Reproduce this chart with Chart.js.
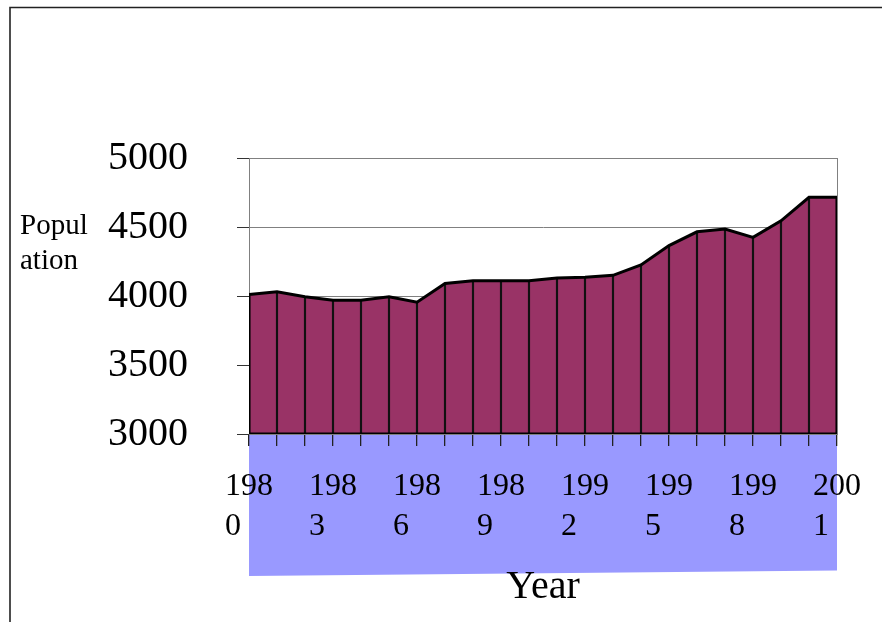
<!DOCTYPE html>
<html>
<head>
<meta charset="utf-8">
<script src="https://cdn.jsdelivr.net/npm/chart.js@4"></script>
<style>
  html, body { margin: 0; padding: 0; background: #ffffff; }
  #wrap { width: 882px; height: 622px; }
</style>
</head>
<body>
<div id="wrap"><canvas id="c" width="882" height="622"></canvas></div>
<script>
// ---- data ----
const years = [1980, 1981, 1982, 1983, 1984, 1985, 1986, 1987, 1988, 1989, 1990,
               1991, 1992, 1993, 1994, 1995, 1996, 1997, 1998, 1999, 2000, 2001];
const population = [4010, 4030, 3995, 3970, 3970, 3995, 3955, 4090, 4110, 4110, 4110,
                    4130, 4135, 4150, 4225, 4365, 4465, 4485, 4425, 4545, 4715, 4715];
const xTickLabels = ["1980", "1983", "1986", "1989", "1992", "1995", "1998", "2001"];
const yTickValues = [3000, 3500, 4000, 4500, 5000];
const yAxisLabelLines = ["Popul", "ation"];
const xAxisTitle = "Year";

// ---- derived tables for the library ----
const points = years.map((y, i) => ({ x: y, y: population[i] }));
const yMin = yTickValues[0], yMax = yTickValues[yTickValues.length - 1];
const outline = [{ x: years[0], y: yMin }, ...points,
                 { x: years[years.length - 1], y: yMin }, { x: years[0], y: yMin }];

const SERIF = '"Liberation Serif", "Times New Roman", serif';

const decor = {
  id: 'decor',
  beforeDraw(chart) {
    const ctx = chart.ctx, a = chart.chartArea;
    ctx.save();
    // blue band under the plot
    ctx.fillStyle = '#9999FF';
    ctx.beginPath();
    ctx.moveTo(a.left, a.bottom);
    ctx.lineTo(a.right, a.bottom);
    ctx.lineTo(a.right, 570.5);
    ctx.lineTo(a.left, 576);
    ctx.closePath();
    ctx.fill();
    // outer frame (top and left)
    ctx.strokeStyle = '#222';
    ctx.lineWidth = 1.6;
    ctx.beginPath();
    ctx.moveTo(882, 7.5);
    ctx.lineTo(10, 7.5);
    ctx.lineTo(10, 622);
    ctx.stroke();
    ctx.restore();
  },
  beforeDatasetsDraw(chart) {
    const ctx = chart.ctx, a = chart.chartArea;
    ctx.save();
    ctx.strokeStyle = '#808080';
    ctx.lineWidth = 1;
    ctx.strokeRect(a.left + 0.5, a.top + 0.5, a.right - a.left, a.bottom - a.top);
    ctx.restore();
  },
  afterDraw(chart) {
    const ctx = chart.ctx;
    ctx.save();
    ctx.fillStyle = '#000';
    ctx.font = '29px ' + SERIF;
    ctx.textAlign = 'left';
    ctx.textBaseline = 'alphabetic';
    ctx.fillText(yAxisLabelLines[0], 20, 234);
    ctx.fillText(yAxisLabelLines[1], 20, 269);
    ctx.restore();
  }
};

new Chart(document.getElementById('c'), {
  type: 'line',
  data: {
    datasets: [
      {
        type: 'line',
        data: points,
        fill: 'start',
        backgroundColor: '#993366',
        borderWidth: 0,
        pointRadius: 0,
        tension: 0,
        order: 3
      },
      {
        type: 'bar',
        data: points,
        backgroundColor: '#111111',
        borderWidth: 0,
        barThickness: 1.5,
        order: 2
      },
      {
        type: 'line',
        data: outline,
        fill: false,
        borderColor: '#000000',
        borderWidth: 3,
        borderJoinStyle: 'miter',
        pointRadius: 0,
        tension: 0,
        order: 1
      }
    ]
  },
  options: {
    responsive: false,
    animation: false,
    events: [],
    layout: { padding: { top: 158, right: 45, bottom: 0, left: 0 } },
    plugins: { legend: { display: false }, tooltip: { enabled: false }, title: { display: false } },
    scales: {
      x: {
        type: 'linear',
        min: years[0],
        max: years[years.length - 1],
        offset: false,
        afterFit(s) { s.height = 188; },
        border: { display: false },
        grid: { offset: false, drawOnChartArea: false, drawTicks: true, tickLength: 12, tickColor: '#222', lineWidth: 1.3 },
        ticks: {
          stepSize: 1,
          autoSkip: false,
          maxRotation: 0,
          minRotation: 0,
          padding: 21,
          color: '#000',
          font: { family: SERIF, size: 32, lineHeight: 1.25 },
          callback(v) {
            const s = String(v);
            if (xTickLabels.includes(s)) return [s.slice(0, 3), s.slice(3) + '    '];
            return '';
          }
        },
        title: {
          display: true,
          text: xAxisTitle,
          color: '#000',
          font: { family: SERIF, size: 40 },
          padding: { top: 0, bottom: 11 }
        }
      },
      y: {
        min: yMin,
        max: yMax,
        afterFit(s) { s.width = 249; },
        afterBuildTicks(s) { s.ticks = yTickValues.map(v => ({ value: v })); },
        border: { display: true, color: '#808080', width: 1 },
        grid: { color: '#808080', lineWidth: 1, tickLength: 12, tickColor: '#333' },
        ticks: {
          padding: 49,
          color: '#000',
          font: { family: SERIF, size: 40 },
          callback(v) { return String(v); }
        }
      }
    }
  },
  plugins: [decor]
});
</script>
</body>
</html>
